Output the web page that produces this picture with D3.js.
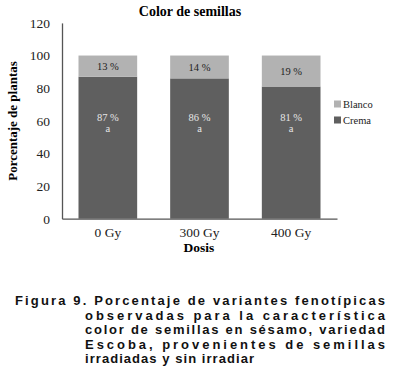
<!DOCTYPE html>
<html>
<head>
<meta charset="utf-8">
<script src="https://cdn.jsdelivr.net/npm/d3@7"></script>
<style>
  body { margin: 0; background: #fff; }
  svg { display: block; }
</style>
</head>
<body>
<svg id="chart" width="397" height="381"></svg>
<script>
"use strict";
const doses = ["0 Gy", "300 Gy", "400 Gy"];
const crema = [87, 86, 81];
const blanco = [13, 14, 19];
const letters = ["a", "a", "a"];
const yTicks = [0, 20, 40, 60, 80, 100, 120];
const seriesNames = ["Blanco", "Crema"];
const seriesColors = { Blanco: "#b2b2b2", Crema: "#5f5f5f" };
const caption = [
  "Figura 9. Porcentaje de variantes fenotípicas",
  "observadas para la característica",
  "color de semillas en sésamo, variedad",
  "Escoba, provenientes de semillas",
  "irradiadas y sin irradiar"
];

const svg = d3.select("#chart");
const serif = "'Liberation Serif', 'Times New Roman', serif";

let x = d3.scaleBand().domain(doses).range([62, 337]).paddingInner(0.36).paddingOuter(0.18);
let y = d3.scaleLinear().domain([0, 120]).range([218.7, 22.9]);

// stacked bars
let rows = doses.map((d, i) => ({ dose: d, Crema: crema[i], Blanco: blanco[i] }));
let stack = d3.stack().keys(["Crema", "Blanco"])(rows);

svg.append("g").selectAll("g").data(stack).join("g")
  .attr("fill", s => seriesColors[s.key])
  .selectAll("rect").data(s => s).join("rect")
  .attr("x", d => x(d.data.dose))
  .attr("width", x.bandwidth())
  .attr("y", d => y(d[1]))
  .attr("height", d => y(d[0]) - y(d[1]));

// axes
let yAxis = svg.append("g").attr("transform", "translate(62,0)")
  .call(d3.axisLeft(y).tickValues(yTicks).tickSize(0).tickPadding(12));
yAxis.select(".domain").attr("stroke", "#555").attr("stroke-width", 1.3);
yAxis.selectAll("text").attr("font-family", serif).attr("font-size", 13.5).attr("fill", "#222");

let xAxis = svg.append("g").attr("transform", "translate(0,218.7)")
  .call(d3.axisBottom(x).tickSize(0).tickPadding(9));
xAxis.select(".domain").attr("stroke", "#555").attr("stroke-width", 1.3);
xAxis.selectAll("text").attr("font-family", serif).attr("font-size", 13.5).attr("fill", "#222");

// value labels
rows.forEach((r, i) => {
  let cx = x(r.dose) + x.bandwidth() / 2;
  svg.append("text").attr("x", cx).attr("y", y(100) + (y(r.Crema) - y(100)) / 2 + 4)
    .attr("text-anchor", "middle").attr("font-family", serif).attr("font-size", 10.5)
    .attr("fill", "#222").text(r.Blanco + " %");
  svg.append("text").attr("x", cx).attr("y", 120.5)
    .attr("text-anchor", "middle").attr("font-family", serif).attr("font-size", 10.5)
    .attr("fill", "#e6e6e6").text(r.Crema + " %");
  svg.append("text").attr("x", cx).attr("y", 132)
    .attr("text-anchor", "middle").attr("font-family", serif).attr("font-size", 10.5)
    .attr("fill", "#e6e6e6").text(letters[i]);
});

// titles
svg.append("text").attr("x", 190).attr("y", 16).attr("text-anchor", "middle")
  .attr("font-family", serif).attr("font-weight", "bold").attr("font-size", 14)
  .text("Color de semillas");
svg.append("text").attr("transform", "translate(17,121) rotate(-90)").attr("text-anchor", "middle")
  .attr("font-family", serif).attr("font-weight", "bold").attr("font-size", 13)
  .text("Porcentaje de plantas");
svg.append("text").attr("x", 199).attr("y", 252).attr("text-anchor", "middle")
  .attr("font-family", serif).attr("font-weight", "bold").attr("font-size", 13.5)
  .text("Dosis");

// legend
let legend = svg.append("g").selectAll("g").data(seriesNames).join("g")
  .attr("transform", (d, i) => `translate(334,${104 + i * 16})`);
legend.append("rect").attr("x", 0).attr("y", -3.5).attr("width", 7).attr("height", 7)
  .attr("fill", d => seriesColors[d]);
legend.append("text").attr("x", 9).attr("y", 4).attr("font-family", serif)
  .attr("font-size", 10.5).attr("fill", "#222").text(d => d);

// caption, justified like the original (last line just stretched to its width)
let capX = [15, 85, 85, 85, 85];
let capW = [370, 300, 300, 300, 169];
caption.forEach((line, i) => {
  svg.append("text").attr("x", capX[i]).attr("y", 305 + i * 14.6)
    .attr("font-family", "'Liberation Sans', Arial, sans-serif").attr("font-weight", "bold")
    .attr("font-size", 13).attr("fill", "#111")
    .attr("textLength", capW[i]).attr("lengthAdjust", "spacing")
    .text(line);
});
</script>
</body>
</html>
